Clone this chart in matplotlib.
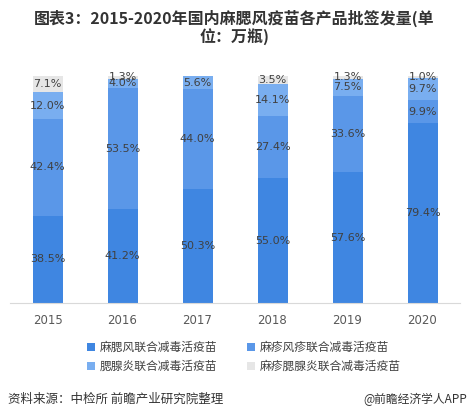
import numpy as np
import matplotlib.pyplot as plt

plt.rcParams['font.family'] = ['Noto Sans CJK SC', 'DejaVu Sans']

years = ['2015', '2016', '2017', '2018', '2019', '2020']
mmr = [38.5, 41.2, 50.3, 55.0, 57.6, 79.4]      # 麻腮风联合减毒活疫苗
mr = [42.4, 53.5, 44.0, 27.4, 33.6, 9.9]        # 麻疹风疹联合减毒活疫苗
mumps = [12.0, 4.0, 5.6, 14.1, 7.5, 9.7]        # 腮腺炎联合减毒活疫苗
mm = [7.1, 1.3, 0.0, 3.5, 1.3, 1.0]             # 麻疹腮腺炎联合减毒活疫苗
names = ['麻腮风联合减毒活疫苗', '麻疹风疹联合减毒活疫苗',
         '腮腺炎联合减毒活疫苗', '麻疹腮腺炎联合减毒活疫苗']
colors = ['#3f86e1', '#5a97e8', '#79aef0', '#e6e6e6']

fig = plt.figure(figsize=(4.69, 4.20), dpi=100)
ax = fig.add_axes([10/469, 1 - 303/420, 450/469, 227/420])

x = np.arange(len(years))
bottom = np.zeros(len(years))
handles = []
for vals, name, c in zip([mmr, mr, mumps, mm], names, colors):
    vals = np.array(vals)
    h = ax.bar(x, vals, 0.4, bottom=bottom, color=c, label=name)
    handles.append(h)
    for xi, b, v in zip(x, bottom, vals):
        if v > 0:
            ax.text(xi, b + v / 2, '%.1f%%' % v, ha='center', va='center',
                    fontsize=8, color='#404040', family='DejaVu Sans')
    bottom += vals

ax.set_xlim(-0.5, 5.5)
ax.set_ylim(0, 100)
ax.set_xticks(x)
ax.set_xticklabels(years, fontsize=8.5, color='#595959', family='DejaVu Sans')
ax.tick_params(axis='x', length=0, pad=8)
ax.set_yticks([])
for s in ['top', 'right', 'left']:
    ax.spines[s].set_visible(False)
ax.spines['bottom'].set_color('#d9d9d9')

# legend is filled row by row in the reference
order = [0, 2, 1, 3]
fig.legend([handles[i] for i in order], [names[i] for i in order], loc='center',
           bbox_to_anchor=(0.52, 1 - 357/420), ncol=2,
           frameon=False, fontsize=8.5, labelcolor='#404040', handlelength=0.6,
           handleheight=0.6, handletextpad=0.4, columnspacing=2.6, labelspacing=0.5)

fig.text(0.5, 1 - 28/420, '图表3：2015-2020年国内麻腮风疫苗各产品批签发量(单\n位：万瓶)',
         ha='center', va='center', fontsize=11.5, fontweight='bold', color='#333333',
         linespacing=1.15)
fig.text(8/469, 1 - 399/420, '资料来源：中检所 前瞻产业研究院整理', ha='left', va='center',
         fontsize=9, color='#333333')
fig.text(467/469, 1 - 399/420, '@前瞻经济学人APP', ha='right', va='center',
         fontsize=8.5, color='#333333')

fig.savefig('out.png', dpi=100)
